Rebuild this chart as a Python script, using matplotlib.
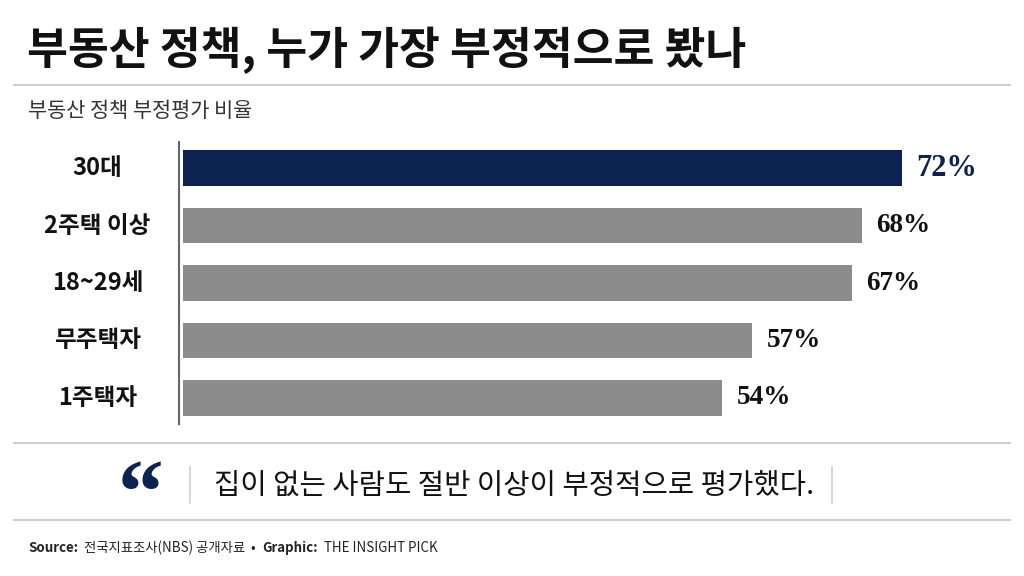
"""부동산 정책 부정평가 비율 — horizontal bar card (1024x576)."""
import matplotlib
matplotlib.use("Agg")
import matplotlib.pyplot as plt
from matplotlib.lines import Line2D

plt.rcParams["font.family"] = ["Noto Sans CJK KR", "DejaVu Sans"]

# --- data -----------------------------------------------------------------
CATEGORIES = ["30대", "2주택 이상", "18~29세", "무주택자", "1주택자"]
VALUES = [72, 68, 67, 57, 54]
HIGHLIGHT = "30대"

TITLE = "부동산 정책, 누가 가장 부정적으로 봤나"
SUBTITLE = "부동산 정책 부정평가 비율"
QUOTE = "집이 없는 사람도 절반 이상이 부정적으로 평가했다."
SOURCE_PARTS = [("Source:", "bold"), ("  전국지표조사(NBS) 공개자료", "normal"),
                ("  •  ", "normal"), ("Graphic:", "bold"),
                ("  THE INSIGHT PICK", "normal")]

NAVY = "#0c2352"
GRAY = "#8c8c8c"
RULE = "#cfcfcf"

W, H = 1024, 576
fig = plt.figure(figsize=(W / 100, H / 100), dpi=100)
fig.patch.set_facecolor("white")


def fx(px):
    return px / W


def fy(py):
    return 1 - py / H


# title + subtitle
fig.text(fx(27), fy(50), TITLE, fontsize=32, fontweight="bold",
         color="#111111", va="center", ha="left")
fig.text(fx(28), fy(111), SUBTITLE, fontsize=15, color="#333333",
         va="center", ha="left")

# horizontal rules
for y in (85, 443, 520):
    fig.add_artist(Line2D([fx(14), fx(1010)], [fy(y), fy(y)],
                          color=RULE, lw=1.5))

# --- bars -----------------------------------------------------------------
px_per_unit = 9.98
ax_left, ax_right = 183, 1010
ax = fig.add_axes([fx(ax_left), fy(426), fx(ax_right - ax_left), 286 / H])
ax.set_xlim(0, (ax_right - ax_left) / px_per_unit)
ax.set_ylim(4.487, -0.487)
ax.axis("off")

ypos = list(range(len(CATEGORIES)))
colors = [NAVY if c == HIGHLIGHT else GRAY for c in CATEGORIES]
ax.barh(ypos, VALUES, height=0.626, color=colors, edgecolor="none")

for y, v, c in zip(ypos, VALUES, CATEGORIES):
    hl = c == HIGHLIGHT
    ax.annotate(f"{v}%", xy=(v, y), xytext=(10.5, 0), textcoords="offset points",
                ha="left", va="center", fontsize=22 if hl else 19.5,
                fontweight="bold", family="Liberation Serif",
                color=NAVY if hl else "#111111")
    ax.annotate(c, xy=(0, y), xytext=(-61.5, 0), textcoords="offset points",
                ha="center", va="center", fontsize=17, fontweight="bold",
                color="#111111")

# vertical axis line
fig.add_artist(Line2D([fx(179), fx(179)], [fy(142), fy(424)],
                      color="#666666", lw=1.5))

# --- quote band -------------------------------------------------------------
fig.text(fx(141), fy(500), "\u201c", fontsize=66, fontweight="bold",
         family="Liberation Serif", color=NAVY, ha="center", va="center")
for x in (190, 832):
    fig.add_artist(Line2D([fx(x), fx(x)], [fy(467), fy(503)],
                          color=RULE, lw=1.2))
fig.text(fx(214), fy(486), QUOTE, fontsize=20.6, color="#111111",
         ha="left", va="center")

# --- source line (chained pieces) -------------------------------------------
renderer = fig.canvas.get_renderer()
x_px = 28
for txt, weight in SOURCE_PARTS:
    t = fig.text(fx(x_px), fy(548), txt, fontsize=9.6, fontweight=weight,
                 color="#222222", ha="left", va="center")
    x_px += t.get_window_extent(renderer).width

fig.savefig("out.png", dpi=100, facecolor="white")
